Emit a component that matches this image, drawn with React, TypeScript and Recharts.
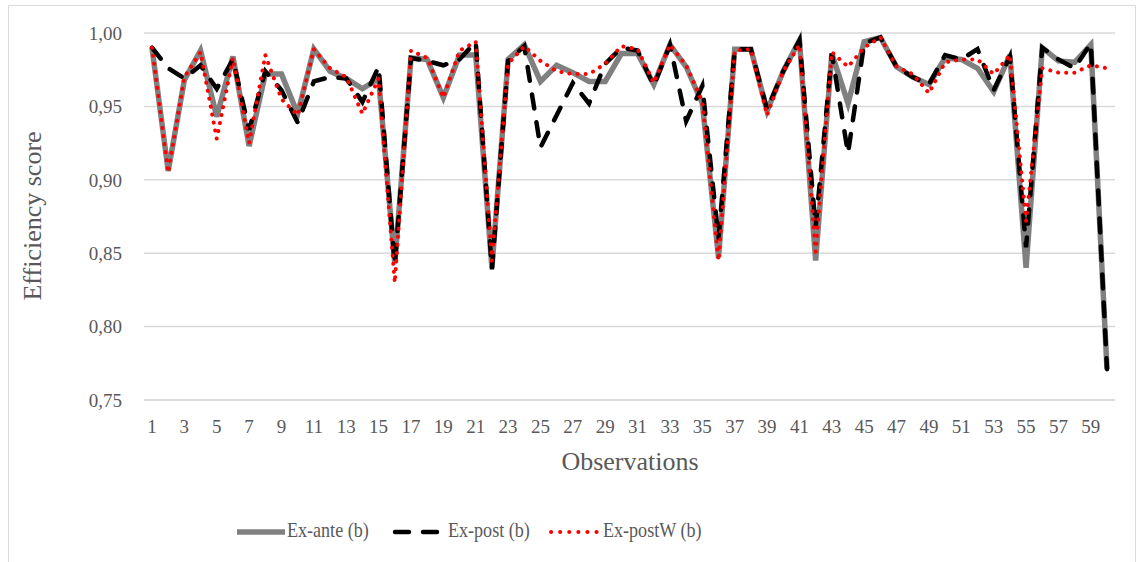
import { CartesianGrid, Line, LineChart, XAxis, YAxis } from "recharts";

// observation numbers 1..60
const observations = [
  1, 2, 3, 4, 5, 6, 7, 8, 9, 10, 11, 12, 13, 14, 15, 16, 17, 18, 19, 20, 21,
  22, 23, 24, 25, 26, 27, 28, 29, 30, 31, 32, 33, 34, 35, 36, 37, 38, 39, 40,
  41, 42, 43, 44, 45, 46, 47, 48, 49, 50, 51, 52, 53, 54, 55, 56, 57, 58, 59,
  60,
];

const exAnte = [
  0.99, 0.906, 0.968, 0.988, 0.943, 0.984, 0.923, 0.972, 0.972, 0.945, 0.989,
  0.974, 0.969, 0.962, 0.969, 0.843, 0.983, 0.982, 0.956, 0.985, 0.985, 0.84,
  0.982, 0.992, 0.967, 0.978, 0.973, 0.967, 0.967, 0.986, 0.986, 0.965, 0.992,
  0.977, 0.952, 0.847, 0.989, 0.989, 0.947, 0.974, 0.995, 0.845, 0.986, 0.952,
  0.994, 0.997, 0.977, 0.97, 0.965, 0.983, 0.982, 0.976, 0.96, 0.985, 0.84,
  0.99, 0.981, 0.98, 0.992, 0.771,
];

const exPost = [
  0.99, 0.976, 0.969, 0.978, 0.962, 0.982, 0.934, 0.974, 0.961, 0.939, 0.967,
  0.97, 0.969, 0.953, 0.977, 0.842, 0.983, 0.981, 0.978, 0.982, 0.994, 0.839,
  0.981, 0.991, 0.922, 0.944, 0.966, 0.952, 0.979, 0.99, 0.988, 0.964, 0.992,
  0.94, 0.964, 0.86, 0.989, 0.989, 0.948, 0.974, 0.995, 0.868, 0.986, 0.918,
  0.993, 0.997, 0.977, 0.97, 0.965, 0.985, 0.982, 0.989, 0.961, 0.984, 0.854,
  0.99, 0.982, 0.976, 0.993, 0.771,
];

const exPostW = [
  0.99, 0.905, 0.97, 0.987, 0.928, 0.983, 0.925, 0.985, 0.955, 0.944, 0.989,
  0.976, 0.97, 0.945, 0.969, 0.83, 0.988, 0.983, 0.956, 0.988, 0.994, 0.845,
  0.979, 0.991, 0.981, 0.974, 0.972, 0.972, 0.979, 0.991, 0.989, 0.966, 0.992,
  0.978, 0.953, 0.845, 0.988, 0.989, 0.944, 0.974, 0.992, 0.851, 0.987, 0.977,
  0.99, 0.997, 0.977, 0.972, 0.959, 0.98, 0.982, 0.982, 0.972, 0.985, 0.872,
  0.976, 0.973, 0.973, 0.978, 0.976,
];

const yTicks = [0.75, 0.8, 0.85, 0.9, 0.95, 1.0];

const data = observations.map((obs, i) => ({
  obs,
  exAnte: exAnte[i],
  exPost: exPost[i],
  exPostW: exPostW[i],
}));

const FONT = '"Liberation Serif", "Times New Roman", serif';
const TEXT = "#595959";
const GRID = "#d9d9d9";

const tickStyle = { fontFamily: FONT, fontSize: 19, fill: TEXT };

// the source text is narrow and tall, so squeeze it a bit
const legendText = {
  position: "absolute" as const,
  top: 518,
  fontSize: 21,
  color: TEXT,
  whiteSpace: "nowrap" as const,
  transform: "scaleX(0.86)",
  transformOrigin: "left center",
};

export default function App() {
  return (
    <div
      style={{
        position: "absolute",
        left: 0,
        top: 0,
        width: 1142,
        height: 562,
        overflow: "hidden",
        background: "#fff",
        fontFamily: FONT,
      }}
    >
      {/* chart frame */}
      <div
        style={{
          position: "absolute",
          left: 8,
          top: 5,
          width: 1126,
          height: 600,
          border: `1px solid ${GRID}`,
        }}
      />

      <div style={{ position: "absolute", left: 0, top: 0 }}>
        <LineChart
          data={data}
          height={562}
          margin={{ top: 33, right: 27, bottom: 0, left: 0 }}
          width={1142}
        >
          <CartesianGrid stroke={GRID} strokeWidth={1.5} vertical={false} />
          <XAxis
            axisLine={{ stroke: GRID, strokeWidth: 1.5 }}
            dataKey="obs"
            height={162}
            interval={1}
            padding={{ left: 8, right: 8 }}
            tick={tickStyle}
            tickLine={false}
            tickMargin={20}
            tickSize={0}
          />
          <YAxis
            axisLine={false}
            domain={[0.75, 1]}
            tick={tickStyle}
            tickFormatter={(v: number) => v.toFixed(2).replace(".", ",")}
            tickLine={false}
            tickMargin={22}
            tickSize={0}
            ticks={yTicks}
            width={144}
          />
          <Line
            dataKey="exAnte"
            dot={false}
            isAnimationActive={false}
            stroke="#808080"
            strokeWidth={5.5}
            type="linear"
          />
          <Line
            dataKey="exPost"
            dot={false}
            isAnimationActive={false}
            stroke="#000"
            strokeDasharray="14 14"
            strokeLinecap="round"
            strokeWidth={4.5}
            type="linear"
          />
          <Line
            dataKey="exPostW"
            dot={false}
            isAnimationActive={false}
            stroke="#ff0000"
            strokeDasharray="0.1 8"
            strokeLinecap="round"
            strokeWidth={4}
            type="linear"
          />
        </LineChart>
      </div>

      {/* axis titles */}
      <div
        style={{
          position: "absolute",
          left: 480,
          width: 300,
          top: 447,
          textAlign: "center",
          fontSize: 26,
          color: TEXT,
        }}
      >
        Observations
      </div>
      <div
        style={{
          position: "absolute",
          left: 33 - 150,
          top: 217 - 16,
          width: 300,
          textAlign: "center",
          fontSize: 26,
          color: TEXT,
          transform: "rotate(-90deg)",
        }}
      >
        Efficiency score
      </div>

      {/* legend */}
      <svg
        height={20}
        style={{ position: "absolute", left: 230, top: 522 }}
        width={380}
      >
        <line stroke="#808080" strokeWidth={5.5} x1={7} x2={55} y1={10} y2={10} />
        <line
          stroke="#000"
          strokeDasharray="14 14"
          strokeLinecap="round"
          strokeWidth={4.5}
          x1={165}
          x2={216}
          y1={10}
          y2={10}
        />
        <line
          stroke="#ff0000"
          strokeDasharray="0.1 9"
          strokeLinecap="round"
          strokeWidth={4}
          x1={321}
          x2={370}
          y1={10}
          y2={10}
        />
      </svg>
      <div style={{ ...legendText, left: 287 }}>Ex-ante (b)</div>
      <div style={{ ...legendText, left: 448 }}>Ex-post (b)</div>
      <div style={{ ...legendText, left: 603 }}>Ex-postW (b)</div>
    </div>
  );
}
